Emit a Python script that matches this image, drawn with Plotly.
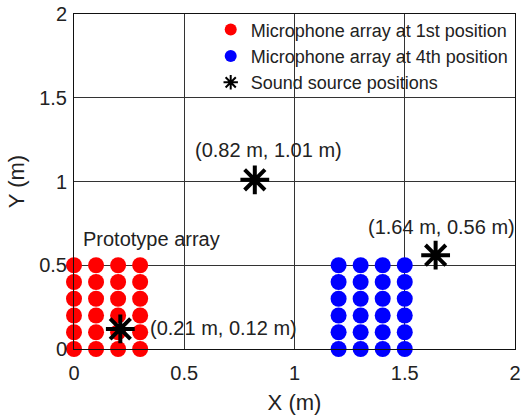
import plotly.graph_objects as go

# Data
arr1_x = [0.0, 0.1, 0.2, 0.3]
arr4_x = [1.2, 1.3, 1.4, 1.5]
arr_y = [0.0, 0.1, 0.2, 0.3, 0.4, 0.5]
src_x = [0.21, 0.82, 1.64]
src_y = [0.12, 1.01, 0.56]
src_labels = ["(0.21 m, 0.12 m)", "(0.82 m, 1.01 m)", "(1.64 m, 0.56 m)"]
tick_vals = [0, 0.5, 1, 1.5, 2]
tick_text = ["0", "0.5", "1", "1.5", "2"]

def grid(xs, ys):
    gx, gy = [], []
    for x in xs:
        for y in ys:
            gx.append(x); gy.append(y)
    return gx, gy

r_x, r_y = grid(arr1_x, arr_y)
b_x, b_y = grid(arr4_x, arr_y)

FONT = "Liberation Sans, Arial, sans-serif"
TXT = "#222222"

fig = go.Figure()
fig.add_trace(go.Scatter(x=r_x, y=r_y, mode="markers", name="Microphone array at 1st position",
                         marker=dict(color="#ff0000", size=16, line=dict(width=0)), cliponaxis=False))
fig.add_trace(go.Scatter(x=b_x, y=b_y, mode="markers", name="Microphone array at 4th position",
                         marker=dict(color="#0000ff", size=16, line=dict(width=0)), cliponaxis=False))
fig.add_trace(go.Scatter(x=src_x, y=src_y, mode="markers", name="Sound source positions",
                         marker=dict(symbol="asterisk-open", color="black", size=24,
                                     line=dict(width=4, color="black")), cliponaxis=False))

ann = [
    dict(x=src_x[0], y=src_y[0], text=src_labels[0], xanchor="left", xshift=28, yshift=1),
    dict(x=src_x[1], y=src_y[1], text=src_labels[1], xanchor="center", xshift=14, yshift=30),
    dict(x=src_x[2], y=src_y[2], text=src_labels[2], xanchor="center", xshift=6, yshift=28),
    dict(x=0.03, y=0.657, text="Prototype array", xanchor="left", yanchor="middle"),
]
for a in ann:
    a["showarrow"] = False
    a["font"] = dict(size=20, color=TXT, family=FONT)
fig.update_layout(annotations=ann)

axis_common = dict(range=[0, 2], tickvals=tick_vals, ticktext=tick_text, showgrid=True,
                   gridcolor="#333333", gridwidth=1, showline=True, linecolor="#111111",
                   linewidth=1, mirror=True, zeroline=False, ticks="", automargin=False,
                   tickfont=dict(size=20, color=TXT))
fig.update_xaxes(**axis_common, ticklabelstandoff=6,
                 title=dict(text="X (m)", font=dict(size=22, color=TXT), standoff=12))
fig.update_yaxes(**axis_common, ticklabelstandoff=2,
                 title=dict(text="Y (m)", font=dict(size=22, color=TXT), standoff=8))

fig.update_layout(
    width=528, height=415,
    margin=dict(l=74, r=13, t=14, b=66, autoexpand=False),
    plot_bgcolor="white", paper_bgcolor="white",
    font=dict(family=FONT, color=TXT),
    showlegend=True,
    legend=dict(x=0.31, y=1.008, xanchor="left", yanchor="top", bgcolor="rgba(0,0,0,0)",
                font=dict(size=18, color=TXT), itemsizing="constant", tracegroupgap=0),
)

fig.write_html("out.html")
